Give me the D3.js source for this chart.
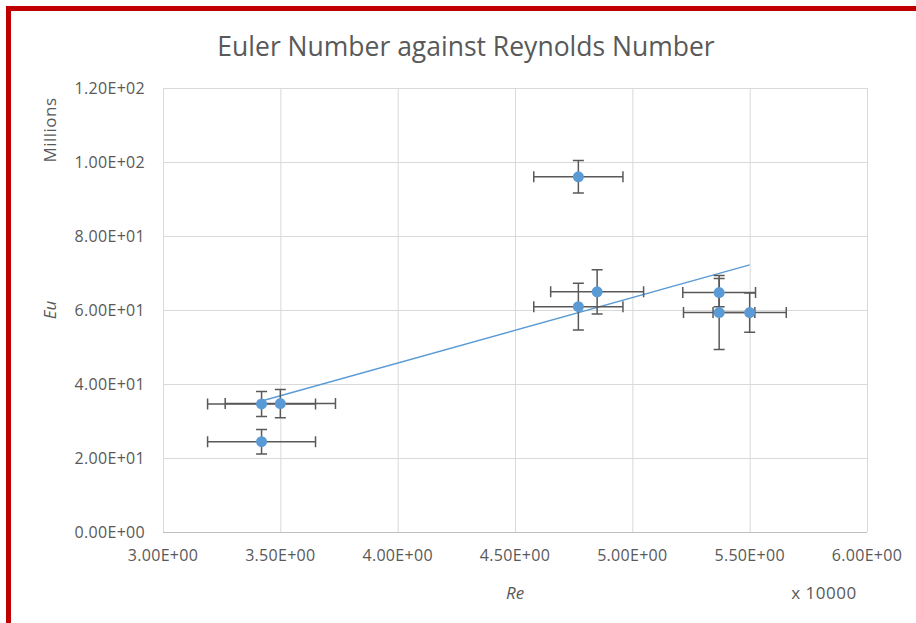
<!DOCTYPE html>
<html>
<head>
<meta charset="utf-8">
<script src="https://cdn.jsdelivr.net/npm/d3@7"></script>
<style>
  body { margin: 0; background: #fff; }
  .chart text { font-family: "Open Sans", "Liberation Sans", sans-serif; fill: #595959; }
  .grid line { stroke: #d9d9d9; }
  .grid path { display: none; }
</style>
</head>
<body>
<script>
// Re (x 10000) and Eu (millions), with their error bars
var re    = [3.42, 3.50, 3.42, 4.77, 4.85, 4.77, 5.37, 5.37, 5.50];
var eu    = [34.6, 34.7, 24.4, 96.0, 64.9, 60.9, 64.7, 59.3, 59.3];
var reErr = [0.23, 0.235, 0.23, 0.19, 0.198, 0.19, 0.155, 0.152, 0.156];
var euErr = [3.4, 3.8, 3.3, 4.4, 6.0, 6.3, 3.8, 10.0, 5.3];
var xTicks = [3.0, 3.5, 4.0, 4.5, 5.0, 5.5, 6.0];
var yTicks = [0, 20, 40, 60, 80, 100, 120];

var data = re.map(function(d, i) {
  return {re: d, eu: eu[i], reErr: reErr[i], euErr: euErr[i]};
});

function chart() {
  var W = 916, H = 623;
  var margin = {top: 88, right: 49, bottom: 91, left: 163},
      width = W - margin.left - margin.right,
      height = H - margin.top - margin.bottom;

  var svg = d3.select("body").append("svg")
      .attr("class", "chart")
      .attr("width", W)
      .attr("height", H);

  // red frame round the picture
  svg.append("path")
      .attr("d", "M8.5," + H + "V8.5H" + W)
      .attr("fill", "none")
      .attr("stroke", "#c00000")
      .attr("stroke-width", 5);

  var x = d3.scaleLinear().domain([3, 6]).range([0, width]);
  var y = d3.scaleLinear().domain([0, 120]).range([height, 0]);
  var fmt = function(d) { return d3.format(".2e")(d).replace(/e([+-])(\d)$/, "E$10$2").replace("e", "E"); };

  var g = svg.append("g")
      .attr("transform", "translate(" + margin.left + "," + margin.top + ")");

  // grid
  g.append("g").attr("class", "grid")
      .call(d3.axisLeft(y).tickValues(yTicks).tickSize(-width).tickFormat(""));
  g.append("g").attr("class", "grid")
      .attr("transform", "translate(0," + height + ")")
      .call(d3.axisBottom(x).tickValues(xTicks).tickSize(-height).tickFormat(""));
  g.append("line")
      .attr("x1", 0).attr("x2", width)
      .attr("y1", height + 0.5).attr("y2", height + 0.5)
      .attr("stroke", "#bfbfbf");

  // tick labels
  g.selectAll(".ylab").data(yTicks).enter().append("text")
      .attr("x", -18).attr("y", function(d) { return y(d); })
      .attr("dy", "0.35em")
      .attr("text-anchor", "end")
      .style("font-size", "16px").style("letter-spacing", "0.3px")
      .text(fmt);
  g.selectAll(".xlab").data(xTicks).enter().append("text")
      .attr("x", function(d) { return x(d); }).attr("y", height + 29)
      .attr("text-anchor", "middle")
      .style("font-size", "16px").style("letter-spacing", "0.3px")
      .text(fmt);

  // trendline (least squares)
  var mx = d3.mean(data, function(d) { return d.re; }),
      my = d3.mean(data, function(d) { return d.eu; });
  var slope = d3.sum(data, function(d) { return (d.re - mx) * (d.eu - my); }) /
              d3.sum(data, function(d) { return (d.re - mx) * (d.re - mx); });
  var ext = d3.extent(re);
  g.append("line")
      .attr("x1", x(ext[0])).attr("y1", y(my + slope * (ext[0] - mx)))
      .attr("x2", x(ext[1])).attr("y2", y(my + slope * (ext[1] - mx)))
      .attr("stroke", "#5b9bd5").attr("stroke-width", 1.5);

  // error bars
  var cap = 5.5;
  var eb = g.selectAll(".eb").data(data).enter().append("g")
      .attr("stroke", "#595959").attr("stroke-width", 1.5).attr("fill", "none");
  eb.append("path").attr("d", function(d) {
    var x0 = x(d.re - d.reErr), x1 = x(d.re + d.reErr), yy = y(d.eu);
    return "M" + x0 + "," + yy + "H" + x1 +
           "M" + x0 + "," + (yy - cap) + "V" + (yy + cap) +
           "M" + x1 + "," + (yy - cap) + "V" + (yy + cap);
  });
  eb.append("path").attr("d", function(d) {
    var y0 = y(d.eu - d.euErr), y1 = y(d.eu + d.euErr), xx = x(d.re);
    return "M" + xx + "," + y0 + "V" + y1 +
           "M" + (xx - cap) + "," + y0 + "H" + (xx + cap) +
           "M" + (xx - cap) + "," + y1 + "H" + (xx + cap);
  });

  // points
  g.selectAll(".dot").data(data).enter().append("circle")
      .attr("cx", function(d) { return x(d.re); })
      .attr("cy", function(d) { return y(d.eu); })
      .attr("r", 5.5)
      .attr("fill", "#5b9bd5");

  // titles
  svg.append("text")
      .attr("x", 466).attr("y", 56)
      .attr("text-anchor", "middle")
      .style("font-size", "26.5px")
      .text("Euler Number against Reynolds Number");
  svg.append("text")
      .attr("transform", "translate(56,130) rotate(-90)")
      .attr("text-anchor", "middle")
      .style("font-size", "17px").style("letter-spacing", "0.5px")
      .text("Millions");
  svg.append("text")
      .attr("transform", "translate(56,310) rotate(-90)")
      .attr("text-anchor", "middle")
      .style("font-size", "17px").style("font-style", "italic")
      .text("Eu");
  svg.append("text")
      .attr("x", 515).attr("y", 599)
      .attr("text-anchor", "middle")
      .style("font-size", "17px").style("font-style", "italic")
      .text("Re");
  svg.append("text")
      .attr("x", 824).attr("y", 599)
      .attr("text-anchor", "middle")
      .style("font-size", "17px").style("letter-spacing", "0.5px")
      .text("x 10000");
}

window.onload = chart();
</script>
</body>
</html>
